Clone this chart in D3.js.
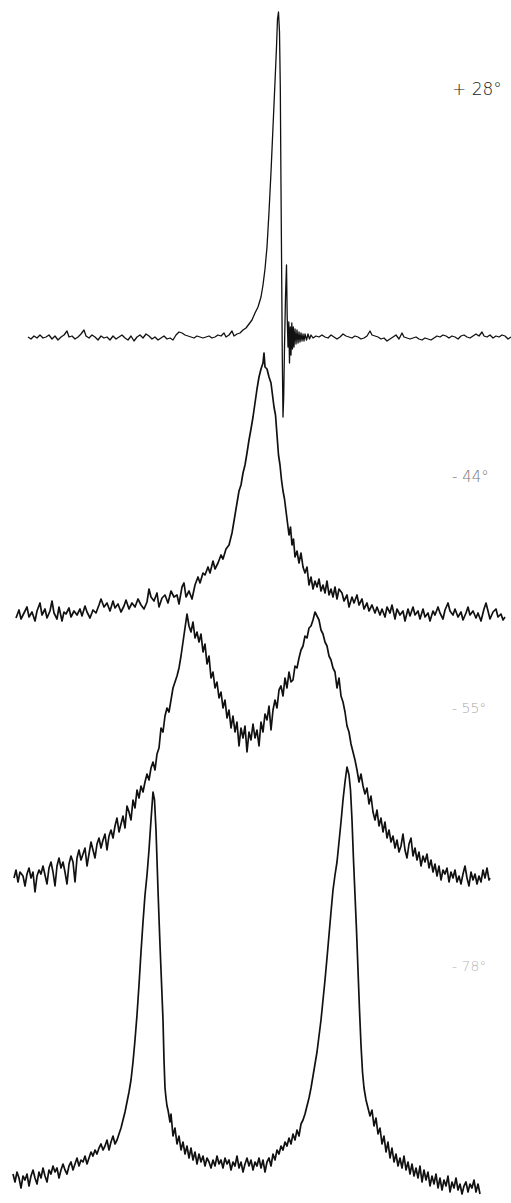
<!DOCTYPE html>
<html>
<head>
<meta charset="utf-8">
<script src="https://cdn.jsdelivr.net/npm/d3@7"></script>
<style>
  body { margin: 0; background: #fff; }
</style>
</head>
<body>
<div id="spectra"></div>
<script>
// Temperature labels for each trace, top to bottom
var temps = ["+ 28°", "- 44°", "- 55°", "- 78°"]

// Each trace: [position, intensity above its own baseline]
var trace28 = [[28,0],[31,-2],[34,1],[37,-1],[40,2],[43,-1],[46,0],[49,2],[52,-2],[55,1],[58,-3],[61,0],[64,2],[67,6],[69,0],[72,1],[75,-2],[78,0],[81,3],[84,7],[86,1],[89,-1],[92,2],[95,0],[98,-3],[101,1],[104,-1],[107,0],[110,-3],[113,1],[116,-2],[119,0],[122,2],[125,-1],[128,-3],[131,1],[134,-4],[137,0],[140,2],[143,-1],[146,3],[149,1],[152,-2],[155,0],[158,-3],[161,-1],[164,1],[167,-2],[170,-1],[173,-3],[176,2],[179,5],[182,4],[185,2],[188,1],[191,0],[194,-1],[197,1],[200,0],[203,-1],[206,0],[209,1],[212,-1],[215,0],[218,2],[221,1],[224,4],[226,0],[229,2],[232,6],[234,1],[237,3],[240,4],[243,7],[246,9],[249,13],[252,17],[255,24],[258,30],[261,40],[263,52],[265,68],[267,90],[269,125],[271,165],[273,210],[275,255],[276.5,290],[277.5,318],[278.5,325],[279.5,305],[280.3,250],[281,150],[281.7,60],[282.3,-20],[283,-80],[283.7,-60],[284.5,-10],[285.5,40],[286.5,72],[287.2,20],[288,-10],[288.8,15],[289.5,-26],[290.3,10],[291,-18],[291.8,14],[292.5,-12],[293.3,10],[294,-10],[295,8],[296,-7],[297,7],[298,-6],[299,5],[300,-5],[301,4],[302,-4],[303,3],[304,-4],[305,3],[306.5,-3],[308,3],[309.5,-2],[311,2],[313,-1],[316,1],[319,0],[322,2],[325,0],[328,-1],[331,2],[334,0],[337,-2],[340,0],[343,3],[346,1],[349,0],[352,-1],[355,1],[358,0],[361,-2],[364,-1],[367,1],[370,6],[372,2],[375,1],[378,0],[381,-2],[384,-1],[387,-4],[390,-2],[393,0],[396,2],[399,-2],[402,4],[404,0],[407,-1],[410,-2],[413,-1],[416,0],[419,-2],[422,-3],[425,-1],[428,-2],[431,-3],[434,-1],[437,1],[440,0],[443,2],[446,1],[449,-1],[452,1],[455,0],[458,-2],[461,1],[464,2],[467,0],[470,-1],[473,1],[476,3],[479,1],[482,5],[484,1],[487,0],[490,2],[493,-1],[496,1],[499,0],[502,2],[505,1],[508,-2],[511,0]]

var trace44 = [[16,-3],[19,5],[21,-4],[24,2],[27,8],[29,-2],[32,3],[35,-6],[37,4],[40,12],[42,0],[45,6],[47,-3],[50,4],[52,14],[54,2],[57,-4],[59,8],[62,-6],[64,3],[66,1],[69,7],[71,-2],[74,4],[77,0],[80,6],[82,-1],[85,9],[87,3],[90,-3],[93,5],[96,2],[99,10],[101,16],[104,8],[107,12],[110,4],[113,14],[115,7],[118,11],[121,3],[124,9],[126,15],[129,6],[132,12],[135,8],[138,16],[141,10],[144,6],[147,13],[149,26],[151,18],[154,14],[157,22],[159,8],[162,17],[165,20],[168,12],[171,24],[174,18],[177,20],[179,11],[182,28],[184,32],[186,18],[189,24],[192,16],[195,30],[198,38],[200,32],[203,42],[205,40],[208,48],[210,42],[213,54],[215,46],[218,52],[221,60],[223,56],[226,66],[229,70],[232,82],[235,100],[237,112],[239,124],[241,130],[243,142],[245,150],[247,162],[249,175],[251,186],[253,198],[255,212],[257,226],[259,238],[261,246],[263,252],[264,262],[265,248],[267,246],[269,238],[271,232],[272.5,220],[274,208],[275.5,200],[277,180],[278.5,160],[280,150],[281.5,135],[283,124],[284.5,116],[286,104],[287.5,92],[289,80],[290.5,88],[292,70],[293.5,76],[295,58],[297,64],[299,52],[301,62],[303,48],[305,42],[307,48],[309,30],[311,38],[313,26],[315,34],[317,28],[319,36],[321,24],[323,30],[325,22],[327,34],[329,20],[331,26],[333,18],[335,28],[337,16],[339,26],[342,22],[344,14],[347,20],[349,8],[352,18],[354,12],[357,20],[359,10],[362,16],[364,6],[367,12],[369,4],[372,10],[375,2],[377,8],[380,0],[382,6],[385,-2],[387,8],[390,2],[392,10],[395,-4],[397,6],[400,0],[403,4],[405,-6],[408,6],[410,-1],[413,8],[415,0],[418,4],[420,-4],[423,6],[425,-2],[428,2],[430,-6],[433,4],[435,0],[438,8],[440,2],[443,-4],[445,5],[448,12],[450,4],[453,0],[455,6],[458,-2],[461,3],[463,-5],[466,2],[468,8],[470,0],[473,4],[476,-3],[478,2],[481,-6],[484,6],[486,12],[488,4],[490,-4],[493,3],[496,6],[498,-2],[501,1],[503,-5],[505,-2]]

var trace55 = [[14,0],[16,8],[18,-4],[20,6],[23,2],[25,-8],[27,4],[29,10],[31,0],[33,6],[35,-14],[37,2],[39,8],[41,4],[43,12],[45,3],[47,-6],[49,10],[51,16],[53,6],[55,-8],[57,12],[59,20],[61,10],[63,16],[65,6],[67,-6],[69,14],[71,22],[73,16],[75,-4],[77,20],[79,28],[81,18],[83,24],[85,30],[87,12],[89,24],[91,36],[93,28],[95,20],[97,34],[99,40],[101,30],[103,38],[105,44],[107,28],[109,42],[111,48],[113,40],[115,52],[117,60],[119,46],[121,54],[123,62],[125,50],[127,72],[129,66],[131,58],[133,78],[135,70],[137,88],[139,80],[141,92],[143,86],[145,96],[147,104],[149,98],[151,110],[153,116],[155,108],[157,124],[159,130],[161,150],[163,146],[165,162],[167,170],[169,166],[171,178],[173,190],[175,196],[177,202],[179,210],[181,222],[183,236],[185,250],[187,264],[189,252],[191,246],[193,256],[195,240],[197,246],[199,236],[201,244],[203,226],[205,234],[207,214],[209,222],[211,200],[213,206],[215,190],[217,196],[219,180],[221,186],[223,170],[225,178],[227,160],[229,168],[231,150],[233,162],[235,146],[237,156],[239,132],[241,150],[243,140],[245,152],[247,126],[249,146],[251,138],[253,154],[255,140],[257,148],[259,132],[261,156],[263,146],[265,164],[267,158],[269,172],[271,148],[273,168],[275,178],[277,170],[279,188],[281,192],[283,182],[285,200],[287,190],[289,206],[291,196],[293,198],[295,212],[297,210],[299,220],[301,228],[303,232],[305,242],[307,240],[309,250],[311,252],[313,258],[315,266],[317,262],[319,258],[321,248],[323,244],[325,236],[327,232],[329,222],[331,218],[333,210],[335,206],[337,190],[339,200],[341,182],[343,176],[345,166],[347,152],[349,146],[351,134],[353,126],[355,118],[357,108],[359,96],[361,104],[363,92],[365,84],[367,90],[369,74],[371,82],[373,66],[375,58],[377,68],[379,52],[381,60],[383,46],[385,56],[387,40],[389,48],[391,36],[393,42],[395,30],[397,38],[399,26],[401,32],[403,44],[405,28],[407,20],[409,34],[411,40],[413,22],[415,30],[417,18],[419,26],[421,12],[423,22],[425,16],[427,24],[429,10],[431,18],[433,6],[435,14],[437,2],[439,12],[441,-2],[443,8],[445,4],[447,10],[449,-4],[451,6],[453,0],[455,8],[457,-4],[459,2],[461,-6],[463,4],[465,12],[467,0],[469,-8],[471,6],[473,-2],[475,4],[477,-6],[479,2],[481,-4],[483,8],[485,0],[487,10],[489,-2],[490,0]]

var trace78 = [[13,6],[15,-2],[17,8],[19,2],[21,-8],[23,4],[25,0],[27,6],[29,-6],[31,4],[33,10],[35,2],[37,-4],[39,8],[41,2],[43,12],[45,4],[47,-2],[49,10],[51,6],[53,14],[55,8],[57,12],[59,2],[61,10],[63,16],[65,10],[67,6],[69,14],[71,18],[73,10],[75,16],[77,22],[79,14],[81,20],[83,18],[85,24],[87,16],[89,22],[91,28],[93,24],[95,30],[97,26],[99,32],[101,36],[103,30],[105,34],[107,40],[109,30],[111,38],[113,44],[115,36],[117,40],[119,46],[121,52],[123,60],[125,68],[127,78],[129,88],[131,100],[133,118],[135,140],[137,165],[139,195],[141,228],[143,258],[145,285],[147,305],[149,330],[151,360],[153,388],[154.5,380],[156,350],[157,320],[158,290],[159,262],[160,235],[161,210],[162,185],[163,160],[164,120],[165,92],[166,82],[167,74],[168,70],[170,58],[171,66],[173,44],[175,52],[177,36],[179,44],[181,30],[183,38],[185,26],[187,34],[189,22],[191,32],[193,20],[195,28],[197,16],[199,26],[201,18],[203,24],[205,14],[207,22],[209,18],[211,12],[213,20],[215,14],[217,24],[219,16],[221,20],[223,12],[225,22],[227,16],[229,20],[231,10],[233,18],[235,14],[237,24],[239,12],[241,18],[243,8],[245,16],[247,22],[249,14],[251,20],[253,10],[255,18],[257,14],[259,22],[261,12],[263,20],[265,8],[267,18],[269,22],[271,14],[273,26],[275,20],[277,30],[279,26],[281,34],[283,30],[285,38],[287,34],[289,42],[291,36],[293,46],[295,40],[297,50],[299,44],[301,56],[303,60],[305,66],[307,74],[309,82],[311,92],[313,104],[315,116],[317,128],[319,144],[321,160],[323,180],[325,200],[327,222],[329,245],[331,268],[333,290],[335,305],[337,318],[339,338],[341,358],[343,380],[345,398],[347,413],[349,405],[350.5,390],[352,360],[353.5,320],[355,285],[356.5,250],[358,210],[359.5,170],[361,135],[362.5,108],[364,92],[366,80],[368,72],[370,64],[372,70],[374,54],[376,62],[378,46],[380,52],[382,36],[384,44],[386,28],[388,38],[390,22],[392,32],[394,18],[396,26],[398,14],[400,22],[402,12],[404,24],[406,10],[408,18],[410,6],[412,16],[414,4],[416,12],[418,2],[420,14],[422,-2],[424,10],[426,0],[428,8],[430,-6],[432,4],[434,-4],[436,6],[438,-8],[440,2],[442,-10],[444,0],[446,-6],[448,4],[450,-12],[452,-2],[454,-8],[456,2],[458,-10],[460,-4],[462,-14],[464,-6],[466,-2],[468,-12],[470,-4],[472,-8],[474,0],[476,-12],[478,-4],[480,-14]]

var traces = [trace28, trace44, trace55, trace78]

// Layout of the page
var W = 511, H = 1203
var baselines = [337, 615, 878, 1180]   // pixel row of each trace baseline
var labelRows = [89, 477, 708, 966]
var labelSizes = [17, 15, 14, 14]
var labelColors = ["#222", "#777", "#a8a8a8", "#b8b8b8"]
var strokeWidths = [1.3, 1.7, 1.7, 1.7]

var svg = d3.select("#spectra").append("svg")
  .attr("width", W)
  .attr("height", H)

// shared horizontal axis (arbitrary shift units), no axis drawn
var x = d3.scaleLinear().domain([0, 511]).range([0, W])

traces.forEach(function(trace, i){
  // each trace gets its own vertical scale, offset to its baseline
  var y = d3.scaleLinear().domain([0, 400]).range([baselines[i], baselines[i] - 400])

  var line = d3.line()
    .x(function(d){ return x(d[0]) })
    .y(function(d){ return y(d[1]) })

  svg.append("path")
    .datum(trace)
    .attr("d", line)
    .attr("fill", "none")
    .attr("stroke", "#111")
    .attr("stroke-width", strokeWidths[i])
    .attr("stroke-linejoin", "round")

  svg.append("text")
    .attr("x", 452)
    .attr("y", labelRows[i])
    .attr("dy", "0.35em")
    .attr("font-family", "DejaVu Sans, sans-serif")
    .attr("font-size", labelSizes[i])
    .attr("font-weight", 200)
    .attr("fill", labelColors[i])
    .text(temps[i])
})
</script>
</body>
</html>
